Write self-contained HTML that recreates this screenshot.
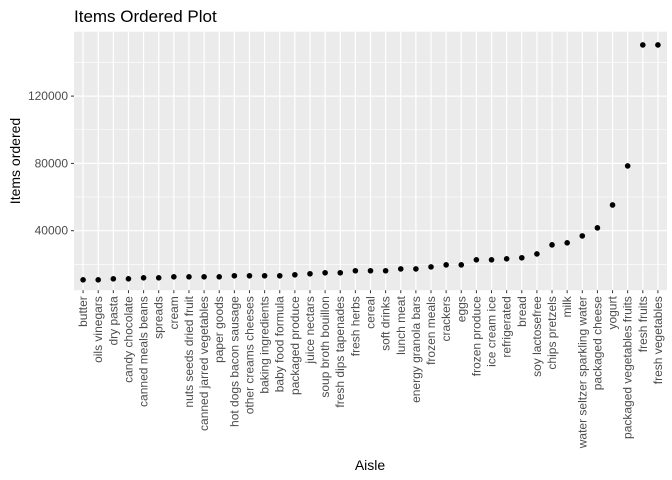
<!DOCTYPE html>
<html><head><meta charset="utf-8"><style>
body{margin:0;background:#fff;}
svg{display:block;font-family:"Liberation Sans",Arial,sans-serif;}
</style></head><body>
<svg id="chart" width="672" height="480">
<text x="74" y="22" font-size="17" fill="#000">Items Ordered Plot</text>
<rect x="74" y="31.7" width="593" height="258.5" fill="#ebebeb"/>
<g id="grid"></g><g id="yaxis"></g><g id="xaxis"></g><g id="points"></g>
<text x="370" y="470" font-size="14" text-anchor="middle" fill="#000">Aisle</text>
<text transform="translate(20,161) rotate(-90)" font-size="14" text-anchor="middle" fill="#000">Items ordered</text>
</svg>
<script>
const categories=["butter","oils vinegars","dry pasta","candy chocolate","canned meals beans","spreads","cream","nuts seeds dried fruit","canned jarred vegetables","paper goods","hot dogs bacon sausage","other creams cheeses","baking ingredients","baby food formula","packaged produce","juice nectars","soup broth bouillon","fresh dips tapenades","fresh herbs","cereal","soft drinks","lunch meat","energy granola bars","frozen meals","crackers","eggs","frozen produce","ice cream ice","refrigerated","bread","soy lactosefree","chips pretzels","milk","water seltzer sparkling water","packaged cheese","yogurt","packaged vegetables fruits","fresh fruits","fresh vegetables"];
const values=[10800,10800,11400,11400,12000,12000,12600,12600,12600,12600,13200,13200,13200,13200,13800,14400,15000,15000,16200,16200,16200,17300,17300,18500,19700,19700,22700,22700,23300,23900,26200,31600,32800,36900,41700,55300,78500,150400,150400];
const yTicks=[40000,80000,120000];
const yMinor=[20000,60000,100000,140000];
const NS="http://www.w3.org/2000/svg";
const x0=74,x1=667,yTop=31.7,yBot=290.2;
function yScale(v){return 230.7-(v-40000)*67.3/40000;}
const step=(x1-x0)/(categories.length-1+1.2);
function xScale(i){return x0+step*(0.6+i);}
function mk(t,a,p){const e=document.createElementNS(NS,t);for(const k in a)e.setAttribute(k,a[k]);p.appendChild(e);return e;}
const grid=document.getElementById('grid'),ya=document.getElementById('yaxis'),xa=document.getElementById('xaxis'),pts=document.getElementById('points');
yMinor.forEach(v=>{const l=mk('line',{x1:x0,x2:x1,y1:yScale(v),y2:yScale(v),stroke:'#fff','stroke-width':0.6},grid);

});
yTicks.forEach(v=>{const y=yScale(v);
const l=mk('line',{x1:x0,x2:x1,y1:y,y2:y,stroke:'#fff','stroke-width':1.2},grid);


const tk=mk('line',{x1:x0-3,x2:x0,y1:y,y2:y,stroke:'#333','stroke-width':1},ya);


const t=mk('text',{x:x0-6,y:y+4,'font-size':12,'text-anchor':'end',fill:'#4d4d4d'},ya);t.textContent=v;

});
categories.forEach((c,i)=>{const x=xScale(i);
const l=mk('line',{x1:x,x2:x,y1:yTop,y2:yBot,stroke:'#fff','stroke-width':1.2},grid);


const tk=mk('line',{x1:x,x2:x,y1:yBot,y2:yBot+3,stroke:'#333','stroke-width':1},xa);


const t=mk('text',{transform:`translate(${x+4},${yBot+6}) rotate(-90)`,'font-size':12,'text-anchor':'end',fill:'#4d4d4d'},xa);t.textContent=c;


const p=mk('circle',{cx:x,cy:yScale(values[i]),r:2.8,fill:'#000'},pts);

});
</script>
</body></html>
